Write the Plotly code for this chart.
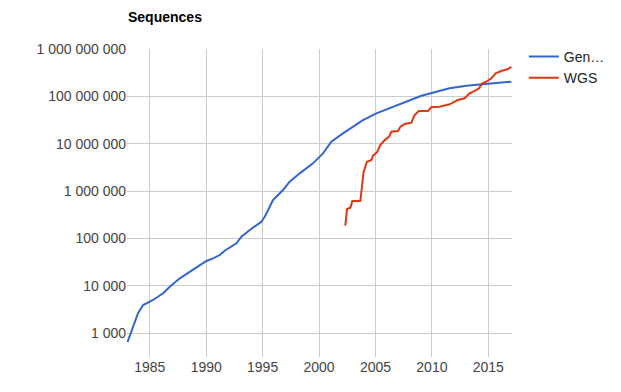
import plotly.graph_objects as go

# GenBank (blue) series: decimal year, number of sequences
gen_years = [1983.02, 1983.96, 1984.41, 1985.29, 1986.18, 1986.77, 1987.66, 1988.84,
             1989.43, 1990.02, 1990.61, 1991.20, 1991.64, 1992.68, 1993.12, 1993.86,
             1994.89, 1995.19, 1995.63, 1995.92, 1996.81, 1997.40, 1998.29, 1999.46,
             2000.35, 2001.09, 2002.12, 2003.01, 2003.89, 2005.08, 2006.55, 2007.74,
             2009.07, 2010.39, 2011.57, 2013.05, 2014.23, 2015.71, 2017.04]
gen_values = [637, 2610, 3900, 4980, 6890, 9500, 14300, 21400,
              27300, 33200, 37800, 44400, 54700, 78400, 108000, 150000,
              224000, 286000, 465000, 644000, 1050000, 1570000, 2360000, 3840000,
              6240000, 11000000, 16500000, 22800000, 31500000, 43600000, 60200000, 76700000,
              103000000, 125000000, 148000000, 168000000, 179000000, 188000000, 204000000]

# WGS (red) series
wgs_years = [2002.33, 2002.48, 2002.78, 2002.95, 2003.66, 2003.84, 2003.95, 2004.25,
             2004.64, 2004.78, 2005.13, 2005.43, 2005.82, 2006.20, 2006.41, 2007.00,
             2007.21, 2007.59, 2008.18, 2008.47, 2008.83, 2009.65, 2009.95, 2010.69,
             2011.57, 2012.02, 2012.31, 2012.90, 2013.34, 2013.79, 2014.17, 2014.47,
             2014.91, 2015.27, 2015.65, 2016.15, 2016.74, 2017.04]
wgs_values = [185000, 417000, 444000, 615000, 615000, 1570000, 2560000, 4160000,
              4520000, 5570000, 6570000, 9360000, 11900000, 14000000, 17900000, 18500000,
              22800000, 26000000, 27700000, 40300000, 49000000, 49000000, 58600000, 60300000,
              67800000, 76900000, 83500000, 90800000, 116000000, 131000000, 147000000, 188000000,
              210000000, 240000000, 306000000, 342000000, 377000000, 422000000]

series_names = ["Gen…", "WGS"]
x_ticks = [1985, 1990, 1995, 2000, 2005, 2010, 2015]
y_ticks = [1e3, 1e4, 1e5, 1e6, 1e7, 1e8, 1e9]
y_tick_labels = ["1 000", "10 000", "100 000", "1 000 000", "10 000 000",
                 "100 000 000", "1 000 000 000"]

fig = go.Figure()
fig.add_trace(go.Scatter(x=gen_years, y=gen_values, mode="lines", name=series_names[0],
                         line=dict(color="#3366cc", width=2)))
fig.add_trace(go.Scatter(x=wgs_years, y=wgs_values, mode="lines", name=series_names[1],
                         line=dict(color="#dc3912", width=2)))

font_family = "Arial, 'Liberation Sans', sans-serif"
fig.update_layout(
    width=621, height=392,
    margin=dict(l=127, r=108, t=49, b=35),
    paper_bgcolor="white", plot_bgcolor="white",
    font=dict(family=font_family, size=14, color="#444"),
    title=dict(text="<b>Sequences</b>", x=128 / 621, xanchor="left", y=1 - 17 / 392,
               yanchor="middle", font=dict(family=font_family, size=14, color="#000")),
    showlegend=True,
    legend=dict(x=1.028, xanchor="left", y=1.026, yanchor="top",
                font=dict(family=font_family, size=14, color="#222"),
                bgcolor="rgba(0,0,0,0)", tracegroupgap=0),
    xaxis=dict(range=[1982.98, 2017.1], tickvals=x_ticks,
               ticktext=[str(v) for v in x_ticks],
               showgrid=True, gridcolor="#cccccc", gridwidth=1,
               zeroline=False, showline=False, ticks="", ticklen=0,
               automargin=False, tickfont=dict(size=14, color="#444")),
    yaxis=dict(type="log", range=[2.493, 9.0], tickvals=y_ticks, ticktext=y_tick_labels,
               showgrid=True, gridcolor="#cccccc", gridwidth=1,
               zeroline=False, showline=False, ticks="", ticklen=0,
               automargin=False, tickfont=dict(size=14, color="#444")),
)

fig.write_html("out.html", config={"displayModeBar": False},
               post_script="document.body.style.margin='0px';")
